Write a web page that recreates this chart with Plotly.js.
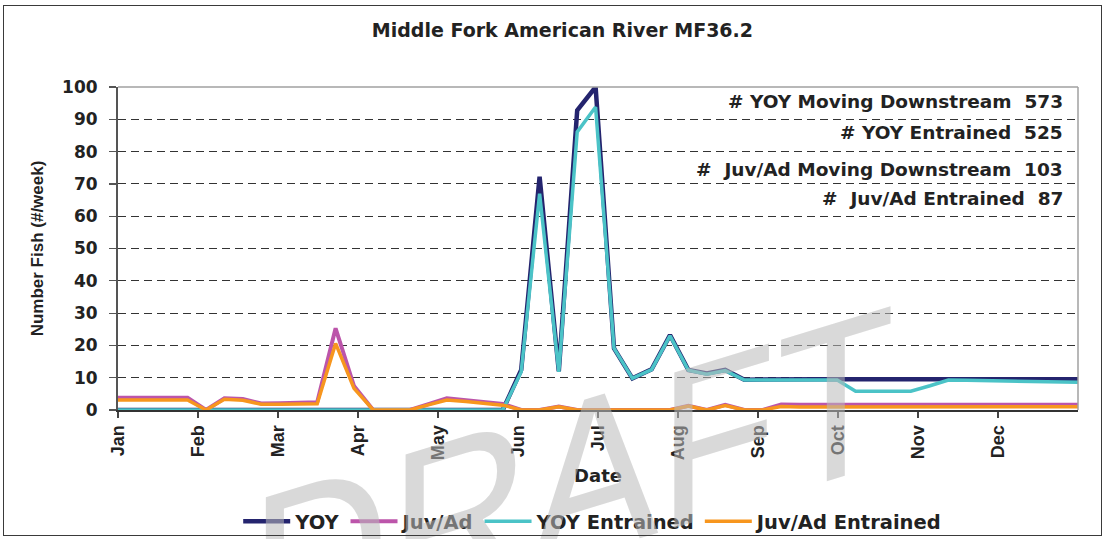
<!DOCTYPE html>
<html><head><meta charset="utf-8">
<script src="https://cdn.plot.ly/plotly-3.0.1.min.js"></script>
<style>
html,body{margin:0;padding:0;background:#fff;}
#wrap{position:relative;width:1105px;height:539px;overflow:hidden;background:#fff;}
#chart{position:absolute;left:0;top:0;width:1105px;height:539px;}
#frame{position:absolute;left:3px;top:5px;width:1099px;height:531px;box-sizing:border-box;border:1.5px solid #3a3a3a;pointer-events:none;}
#wm{position:absolute;left:0;top:0;pointer-events:none;}
</style></head><body>
<div id="wrap">
<div id="chart"></div>
<svg id="wm" width="1105" height="539"><text x="250" y="734" transform="skewY(-17)" font-family="Liberation Sans, Arial, sans-serif" font-size="226" fill="rgb(185,185,185)" fill-opacity="0.55" textLength="645" lengthAdjust="spacingAndGlyphs">DRAFT</text></svg>
<div id="frame"></div>
</div>
<script>
// Month tick labels (x axis in month units, Jan = 0)
const months = ['Jan','Feb','Mar','Apr','May','Jun','Jul','Aug','Sep','Oct','Nov','Dec'];
const monthPos = [0,1,2,3,4,5,6,7,8,9,10,11];

// Weekly sample positions (months since Jan 1)
const weekPos = [0, 0.17, 0.40, 0.63, 0.87, 1.10, 1.33, 1.56, 1.79, 2.03, 2.26, 2.49, 2.72, 2.95, 3.19, 3.42, 3.65, 3.88, 4.11, 4.35, 4.58, 4.81, 5.04, 5.27, 5.51, 5.74, 5.97, 6.20, 6.43, 6.67, 6.90, 7.13, 7.36, 7.59, 7.83, 8.06, 8.29, 8.52, 8.75, 8.99, 9.22, 9.45, 9.68, 9.91, 10.15, 10.38, 10.61, 10.84, 11.07, 11.31, 11.54, 11.77, 12.00];

const yoy = [0,0,0,0,0,0,0,0,0,0,0,0,0,0,0,0,0,0,0,0,0,0,
  12.4, 72.2, 12.0, 92.8, 100, 19.1, 9.8, 12.6, 23.2, 12.4, 11.3, 12.4, 9.4,
  9.5, 9.5, 9.5, 9.5, 9.5, 9.5, 9.5, 9.5, 9.5, 9.5, 9.5, 9.5, 9.5, 9.5, 9.5, 9.5, 9.5, 9.5];

const juvAd = [3.8, 3.8, 3.8, 3.8, 3.8, 0, 3.6, 3.4, 2.0, 2.1, 2.2, 2.4, 25.3, 7.4, 0, 0, 0, 1.8, 3.6, 3.0, 2.5, 1.9,
  0, 0, 1.1, 0, 0, 0, 0, 0, 0, 1.3, 0, 1.6, 0, 0, 1.7,
  1.6, 1.6, 1.6, 1.6, 1.6, 1.6, 1.6, 1.6, 1.6, 1.6, 1.6, 1.6, 1.6, 1.6, 1.6, 1.6];

const yoyEnt = [0,0,0,0,0,0,0,0,0,0,0,0,0,0,0,0,0,0,0,0,0,0,
  11.8, 67.0, 11.8, 86.1, 93.8, 19.1, 9.8, 12.5, 23.0, 12.3, 11.1, 12.2, 9.3,
  9.3, 9.3, 9.3, 9.3, 9.3, 5.8, 5.8, 5.8, 5.8, 7.5, 9.3, 9.2, 9.1, 8.9, 8.7, 8.6, 8.6, 8.6];

const juvAdEnt = [3.1, 3.1, 3.1, 3.1, 3.1, 0, 3.3, 3.0, 1.8, 1.8, 1.8, 1.9, 20.6, 6.7, 0, 0, 0, 1.6, 3.1, 2.6, 2.0, 1.5,
  0, 0, 1.0, 0, 0, 0, 0, 0, 0, 1.2, 0, 1.4, 0, 0, 1.1,
  0.9, 0.9, 0.9, 0.9, 0.9, 0.9, 0.9, 0.9, 1.0, 1.0, 1.0, 1.0, 1.0, 1.0, 1.0, 1.0];

const seriesNames = ['YOY', 'Juv/Ad', 'YOY Entrained', 'Juv/Ad Entrained'];
const seriesColors = ['#24246E', '#BC55AA', '#4BC3C7', '#F7961E'];
const seriesWidths = [4.5, 4, 3.5, 3.5];
const seriesData = [yoy, juvAd, yoyEnt, juvAdEnt];

const totalsText = [
  '# YOY Moving Downstream\u00A0\u00A0573',
  '# YOY Entrained\u00A0\u00A0525',
  '#\u00A0\u00A0Juv/Ad Moving Downstream\u00A0\u00A0103',
  '#\u00A0\u00A0Juv/Ad Entrained\u00A0\u00A087'
];
const totalsY = [0.9536, 0.8576, 0.7461, 0.6533];

const traces = seriesData.map((d, i) => ({
  x: weekPos, y: d, name: seriesNames[i], type: 'scatter', mode: 'lines',
  line: {color: seriesColors[i], width: seriesWidths[i]}
}));

const wide = 'DejaVu Sans, Verdana, sans-serif';
const narrow = 'Liberation Sans, Arial, sans-serif';

const layout = {
  width: 1105, height: 539,
  margin: {l: 118, r: 27, t: 87, b: 129, autoexpand: false},
  paper_bgcolor: '#fff', plot_bgcolor: '#fff',
  showlegend: true,
  title: {text: 'Middle Fork American River MF36.2', x: 0.509, xanchor: 'center', xref: 'container',
          y: 0.944, yanchor: 'middle', yref: 'container',
          font: {family: wide, size: 19, weight: 'bold', color: '#222'}},
  xaxis: {
    range: [0, 12], tickmode: 'array', tickvals: monthPos, ticktext: months, automargin: false,
    tickangle: -90, ticks: 'outside', ticklen: 6, tickwidth: 1.2, tickcolor: '#444',
    tickfont: {family: narrow, size: 18, weight: 'bold', color: '#222'},
    showline: true, linecolor: '#333', linewidth: 2, showgrid: false, zeroline: false,
    title: {text: 'Date', standoff: 10, font: {family: wide, size: 18, weight: 'bold', color: '#222'}}
  },
  yaxis: {
    range: [0, 100], dtick: 10, tick0: 0, ticks: 'outside', ticklen: 7, tickwidth: 1.2, tickcolor: '#555',
    tickfont: {family: wide, size: 17, weight: 'bold', color: '#222'}, automargin: false,
    ticklabelstandoff: 8,
    showline: true, linecolor: '#555', linewidth: 2, zeroline: false,
    showgrid: true, gridcolor: '#333', gridwidth: 1, griddash: '8px,5px',
    title: {text: 'Number Fish (#/week)', standoff: 14, font: {family: narrow, size: 17, weight: 'bold', color: '#222'}}
  },
  legend: {orientation: 'h', x: 0.495, xanchor: 'center', y: -0.285, yanchor: 'top',
           font: {family: wide, size: 19.5, weight: 'bold', color: '#222'},
           bgcolor: 'rgba(0,0,0,0)', itemwidth: 47, traceorder: 'normal'},
  shapes: [
    {type: 'line', xref: 'paper', yref: 'paper', x0: 0, x1: 1, y0: 1, y1: 1, line: {color: '#a0a0a0', width: 1.5}},
    {type: 'line', xref: 'paper', yref: 'paper', x0: 1, x1: 1, y0: 0, y1: 1, line: {color: '#a0a0a0', width: 1.5}}
  ],
  annotations: totalsText.map((t, i) => ({
    text: t, xref: 'paper', yref: 'paper', x: 0.9865, y: totalsY[i],
    xanchor: 'right', yanchor: 'middle', showarrow: false,
    font: {family: wide, size: 18.5, weight: 'bold', color: '#222'}
  }))
};

Plotly.newPlot('chart', traces, layout, {displayModeBar: false, staticPlot: true});
</script>
</body></html>
